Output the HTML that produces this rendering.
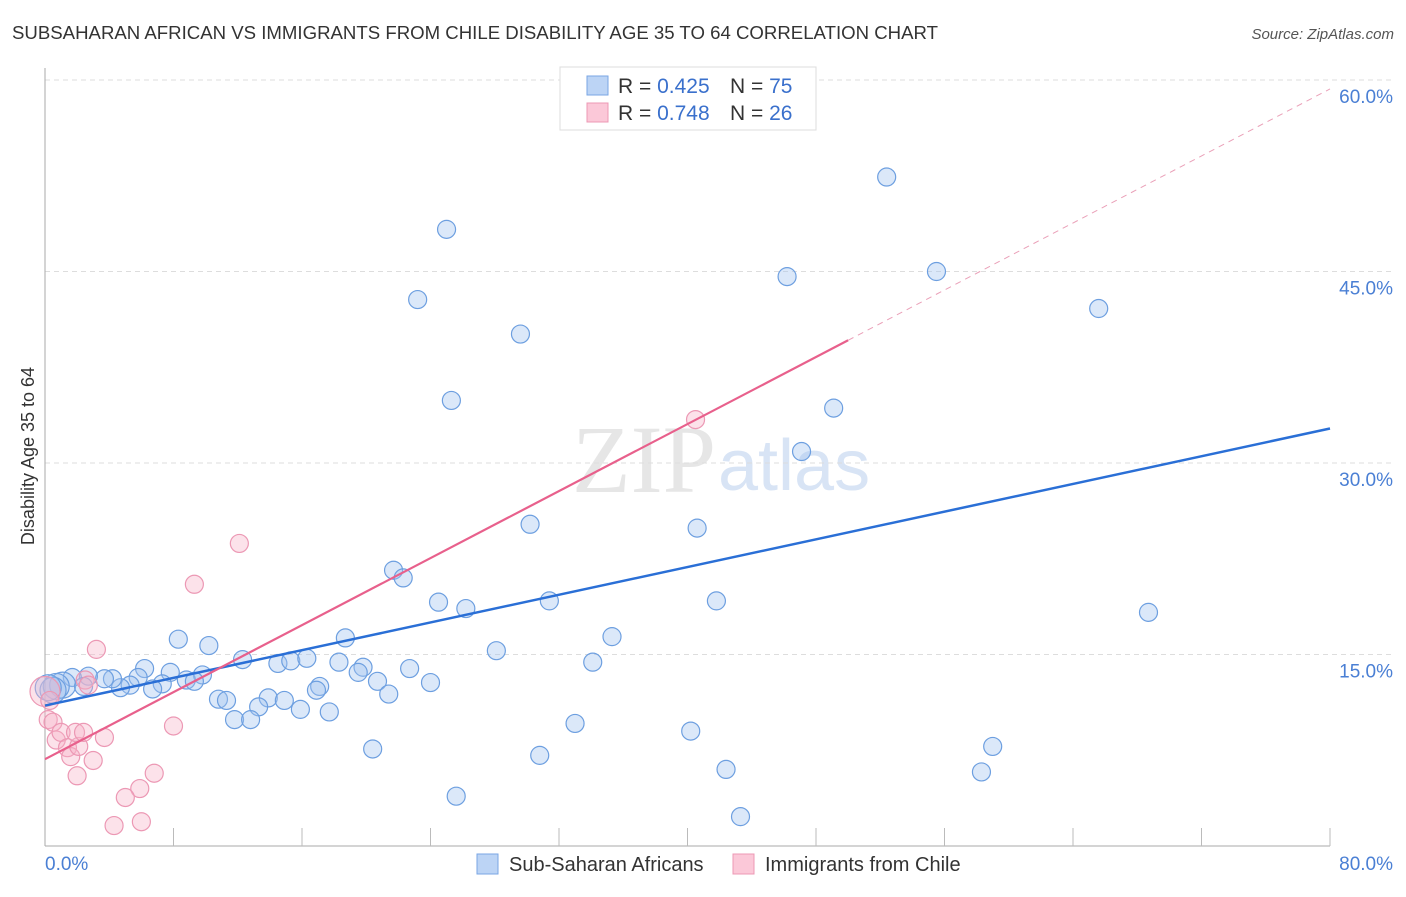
<!DOCTYPE html>
<html><head><meta charset="utf-8"><style>
body{margin:0;background:#fff;font-family:"Liberation Sans",sans-serif}
svg text{font-family:"Liberation Sans",sans-serif}
</style></head><body>
<svg id="c" width="1406" height="892" xmlns="http://www.w3.org/2000/svg">
<text x="12" y="39" font-size="18" fill="#333" textLength="926" lengthAdjust="spacingAndGlyphs">SUBSAHARAN AFRICAN VS IMMIGRANTS FROM CHILE DISABILITY AGE 35 TO 64 CORRELATION CHART</text>
<text x="1394" y="39" font-size="15" fill="#555" font-style="italic" text-anchor="end">Source: ZipAtlas.com</text>
<text x="716" y="492" font-size="96" fill="#e6e6e6" text-anchor="end" style="font-family:'Liberation Serif',serif">ZIP</text>
<text x="718" y="490" font-size="72" fill="#d8e4f5">atlas</text>
<g id="grid"></g>
<line x1="45" y1="68" x2="45" y2="846" stroke="#aaa"/>
<line x1="45" y1="846" x2="1330" y2="846" stroke="#aaa"/>
<g id="xt"></g>
<text transform="translate(34,456) rotate(-90)" font-size="18" fill="#333" text-anchor="middle">Disability Age 35 to 64</text>
<text x="45" y="870" font-size="19" fill="#4a7fd4">0.0%</text>
<text x="1393" y="870" font-size="19" fill="#4a7fd4" text-anchor="end">80.0%</text>
<g id="pts"></g>
<g id="lines"></g>
<g>
<rect x="560" y="67" width="256" height="63" fill="#fff" stroke="#ddd"/>
<rect x="587" y="76" width="21" height="19" fill="#bcd4f5" stroke="#7aa6e4"/>
<rect x="587" y="103" width="21" height="19" fill="#fbc8d8" stroke="#ec98b4"/>
<text x="618" y="93" font-size="21" fill="#333">R = <tspan fill="#3a70cc">0.425</tspan><tspan x="730">N = </tspan><tspan fill="#3a70cc">75</tspan></text>
<text x="618" y="120" font-size="21" fill="#333">R = <tspan fill="#3a70cc"> 0.748</tspan><tspan x="730">N = </tspan><tspan fill="#3a70cc">26</tspan></text>
</g>
<g>
<rect x="477" y="854" width="21" height="20" fill="#bcd4f5" stroke="#7aa6e4"/>
<text x="509" y="871" font-size="20" fill="#333">Sub-Saharan Africans</text>
<rect x="733" y="854" width="21" height="20" fill="#fbc8d8" stroke="#ec98b4"/>
<text x="765" y="871" font-size="20" fill="#333">Immigrants from Chile</text>
</g>
</svg>
<script>
const yTicks=[15,30,45,60];
const yTickLabels=["15.0%","30.0%","45.0%","60.0%"];
const blueX=[25.0,52.4,23.2,55.5,46.2,65.6,29.6,25.3,49.1,47.1,30.2,40.6,21.7,22.3,24.5,26.2,31.4,41.8,68.7,35.3,8.3,10.2,18.7,28.1,34.1,12.3,14.5,15.3,16.3,18.3,19.8,19.5,22.7,20.7,24.0,21.4,17.1,16.9,6.2,7.8,5.8,9.8,8.8,9.3,7.3,6.7,5.3,4.7,4.2,3.7,2.7,1.7,1.1,0.7,0.5,0.2,2.4,10.8,11.3,13.9,14.9,13.3,15.9,17.7,11.8,12.8,33.0,20.4,40.2,59.0,30.8,42.4,58.3,25.6,43.3];
const blueY=[48.3,52.4,42.8,45.0,44.6,42.1,40.1,34.9,34.3,30.9,25.2,24.9,21.6,21.0,19.1,18.6,19.2,19.2,18.3,16.4,16.2,15.7,16.3,15.3,14.4,14.6,14.3,14.5,14.7,14.4,14.0,13.6,13.9,12.9,12.8,11.9,12.5,12.2,13.9,13.6,13.2,13.4,13.0,12.9,12.7,12.3,12.6,12.4,13.1,13.1,13.3,13.2,12.6,12.5,12.2,12.4,12.5,11.5,11.4,11.6,11.4,10.9,10.7,10.5,9.9,9.9,9.6,7.6,9.0,7.8,7.1,6.0,5.8,3.9,2.3];
const pinkX=[12.1,9.3,3.2,40.5,8.0,3.7,0.2,0.5,0.7,1.0,1.4,1.6,2.1,1.9,2.4,3.0,2.0,6.8,5.9,5.0,6.0,4.3,2.5,2.7,0.0,0.3];
const pinkY=[23.7,20.5,15.4,33.4,9.4,8.5,9.9,9.7,8.3,8.9,7.7,7.0,7.8,8.9,8.9,6.7,5.5,5.7,4.5,3.8,1.9,1.6,13.0,12.6,12.1,11.4];
const blueTrend=[11.0,32.7];
const pinkTrend=[6.8,59.3];
const pinkSolidEnd=50;
const NS="http://www.w3.org/2000/svg";
const X=v=>45+v/80*1285, Y=v=>846-v/60*766;
function mk(t,a,p){const e=document.createElementNS(NS,t);for(const k in a)e.setAttribute(k,a[k]);p.appendChild(e);return e;}
const grid=document.getElementById('grid');
yTicks.forEach((t,i)=>{
 const l=mk('line',{x1:45,x2:1393,y1:Y(t),y2:Y(t),stroke:'#ddd','stroke-dasharray':'5,4'},grid);
 
 
 const tx=mk('text',{x:1393,y:Y(t)+23,'font-size':19,fill:'#4a7fd4','text-anchor':'end'},grid);
 tx.textContent=yTickLabels[i];
 
 
});
const xt=document.getElementById('xt');
for(let k=1;k<=10;k++){const l=mk('line',{x1:X(k*8),x2:X(k*8),y1:828,y2:846,stroke:'#bbb'},xt);
 
 }
const pts=document.getElementById('pts');
blueX.forEach((x,i)=>{const big=x<1.5;const c=mk('circle',{cx:X(x),cy:Y(blueY[i]),r:big?13:9,fill:'rgba(160,195,240,0.38)',stroke:'#6d9fe0','stroke-width':1.2},pts);
 
 });
pinkX.forEach((x,i)=>{const big=x===0;const c=mk('circle',{cx:X(x),cy:Y(pinkY[i]),r:big?15:9,fill:'rgba(248,180,200,0.38)',stroke:'#ec98b4','stroke-width':1.2},pts);
 
 });
const ln=document.getElementById('lines');
let b=mk('line',{x1:X(0),y1:Y(blueTrend[0]),x2:X(80),y2:Y(blueTrend[1]),stroke:'#2a6fd6','stroke-width':2.5},ln);


const pAt=x=>pinkTrend[0]+(pinkTrend[1]-pinkTrend[0])*x/80;
let p=mk('line',{x1:X(0),y1:Y(pAt(0)),x2:X(pinkSolidEnd),y2:Y(pAt(pinkSolidEnd)),stroke:'#e8608c','stroke-width':2.2},ln);


let pd=mk('line',{x1:X(pinkSolidEnd),y1:Y(pAt(pinkSolidEnd)),x2:X(80),y2:Y(pAt(80)),stroke:'#eaa0b8','stroke-width':1,'stroke-dasharray':'6,5'},ln);


</script>
</body></html>
